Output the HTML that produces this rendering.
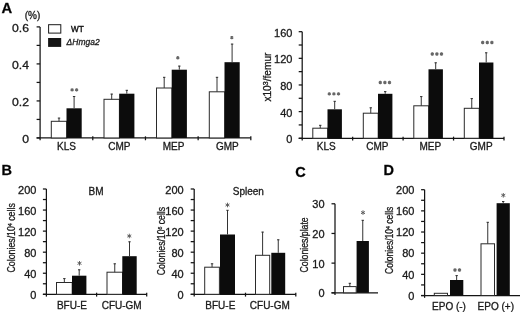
<!DOCTYPE html>
<html><head><meta charset="utf-8"><style>
html,body{margin:0;padding:0;background:#fff;}
body{width:520px;height:312px;overflow:hidden;}
svg{display:block;font-family:"Liberation Sans", sans-serif;will-change:transform;}
text{stroke:#1a1a1a;stroke-width:0.3px;}
</style></head><body>
<svg width="520" height="312" viewBox="0 0 520 312">
<rect width="520" height="312" fill="#ffffff"/>
<line x1="40.10" y1="26.89" x2="40.10" y2="140.25" stroke="#141414" stroke-width="1.25"/>
<line x1="36.60" y1="137.95" x2="40.10" y2="137.95" stroke="#141414" stroke-width="1.25"/>
<line x1="36.60" y1="119.44" x2="40.10" y2="119.44" stroke="#141414" stroke-width="1.25"/>
<line x1="36.60" y1="100.93" x2="40.10" y2="100.93" stroke="#141414" stroke-width="1.25"/>
<line x1="36.60" y1="82.42" x2="40.10" y2="82.42" stroke="#141414" stroke-width="1.25"/>
<line x1="36.60" y1="63.91" x2="40.10" y2="63.91" stroke="#141414" stroke-width="1.25"/>
<line x1="36.60" y1="45.40" x2="40.10" y2="45.40" stroke="#141414" stroke-width="1.25"/>
<line x1="36.60" y1="26.89" x2="40.10" y2="26.89" stroke="#141414" stroke-width="1.25"/>
<line x1="36.60" y1="137.95" x2="250.80" y2="137.95" stroke="#141414" stroke-width="1.25"/>
<line x1="92.78" y1="136.35" x2="92.78" y2="140.25" stroke="#141414" stroke-width="1.25"/>
<line x1="145.46" y1="136.35" x2="145.46" y2="140.25" stroke="#141414" stroke-width="1.25"/>
<line x1="198.14" y1="136.35" x2="198.14" y2="140.25" stroke="#141414" stroke-width="1.25"/>
<line x1="250.82" y1="136.35" x2="250.82" y2="140.25" stroke="#141414" stroke-width="1.25"/>
<text transform="translate(29.00,143.35) scale(1.11,1)" x="0" y="0" font-size="11" text-anchor="end" font-weight="normal" font-style="normal" fill="#1a1a1a">0</text>
<text transform="translate(29.00,106.33) scale(1.11,1)" x="0" y="0" font-size="11" text-anchor="end" font-weight="normal" font-style="normal" fill="#1a1a1a">0.2</text>
<text transform="translate(29.00,69.31) scale(1.11,1)" x="0" y="0" font-size="11" text-anchor="end" font-weight="normal" font-style="normal" fill="#1a1a1a">0.4</text>
<text transform="translate(29.00,32.29) scale(1.11,1)" x="0" y="0" font-size="11" text-anchor="end" font-weight="normal" font-style="normal" fill="#1a1a1a">0.6</text>
<text x="32.50" y="18.80" font-size="10" text-anchor="middle" font-weight="normal" font-style="normal" fill="#1a1a1a">(%)</text>
<rect x="51.30" y="121.30" width="15.40" height="16.65" fill="#ffffff" stroke="#2a2a2a" stroke-width="1.0"/>
<line x1="59.00" y1="117.80" x2="59.00" y2="121.30" stroke="#333" stroke-width="1.0"/>
<line x1="57.80" y1="118.10" x2="60.20" y2="118.10" stroke="#333" stroke-width="1.0"/>
<rect x="66.50" y="108.30" width="15.20" height="29.65" fill="#0c0c0c"/>
<line x1="74.10" y1="96.20" x2="74.10" y2="108.30" stroke="#333" stroke-width="1.0"/>
<line x1="72.90" y1="96.50" x2="75.30" y2="96.50" stroke="#333" stroke-width="1.0"/>
<rect x="104.00" y="99.30" width="15.40" height="38.65" fill="#ffffff" stroke="#2a2a2a" stroke-width="1.0"/>
<line x1="111.70" y1="93.80" x2="111.70" y2="99.30" stroke="#333" stroke-width="1.0"/>
<line x1="110.50" y1="94.10" x2="112.90" y2="94.10" stroke="#333" stroke-width="1.0"/>
<rect x="119.20" y="93.70" width="15.20" height="44.25" fill="#0c0c0c"/>
<line x1="126.80" y1="90.00" x2="126.80" y2="93.70" stroke="#333" stroke-width="1.0"/>
<line x1="125.60" y1="90.30" x2="128.00" y2="90.30" stroke="#333" stroke-width="1.0"/>
<rect x="156.50" y="88.00" width="15.40" height="49.95" fill="#ffffff" stroke="#2a2a2a" stroke-width="1.0"/>
<line x1="164.20" y1="77.00" x2="164.20" y2="88.00" stroke="#333" stroke-width="1.0"/>
<line x1="163.00" y1="77.30" x2="165.40" y2="77.30" stroke="#333" stroke-width="1.0"/>
<rect x="171.70" y="69.70" width="15.20" height="68.25" fill="#0c0c0c"/>
<line x1="179.30" y1="65.80" x2="179.30" y2="69.70" stroke="#333" stroke-width="1.0"/>
<line x1="178.10" y1="66.10" x2="180.50" y2="66.10" stroke="#333" stroke-width="1.0"/>
<rect x="209.30" y="91.80" width="15.40" height="46.15" fill="#ffffff" stroke="#2a2a2a" stroke-width="1.0"/>
<line x1="217.00" y1="77.00" x2="217.00" y2="91.80" stroke="#333" stroke-width="1.0"/>
<line x1="215.80" y1="77.30" x2="218.20" y2="77.30" stroke="#333" stroke-width="1.0"/>
<rect x="224.50" y="62.20" width="15.20" height="75.75" fill="#0c0c0c"/>
<line x1="232.10" y1="43.80" x2="232.10" y2="62.20" stroke="#333" stroke-width="1.0"/>
<line x1="230.90" y1="44.10" x2="233.30" y2="44.10" stroke="#333" stroke-width="1.0"/>
<text x="66.50" y="150.30" font-size="10" text-anchor="middle" font-weight="normal" font-style="normal" fill="#1a1a1a">KLS</text>
<text x="119.30" y="150.30" font-size="10" text-anchor="middle" font-weight="normal" font-style="normal" fill="#1a1a1a">CMP</text>
<text x="173.60" y="150.30" font-size="10" text-anchor="middle" font-weight="normal" font-style="normal" fill="#1a1a1a">MEP</text>
<text x="227.30" y="150.30" font-size="10" text-anchor="middle" font-weight="normal" font-style="normal" fill="#1a1a1a">GMP</text>
<path d="M72.10 88.20L72.10 91.60M70.63 89.05L73.57 90.75M73.57 89.05L70.63 90.75" stroke="#666666" stroke-width="1.25" fill="none"/>
<path d="M76.60 88.20L76.60 91.60M75.13 89.05L78.07 90.75M78.07 89.05L75.13 90.75" stroke="#666666" stroke-width="1.25" fill="none"/>
<path d="M177.80 56.10L177.80 59.50M176.33 56.95L179.27 58.65M179.27 56.95L176.33 58.65" stroke="#666666" stroke-width="1.25" fill="none"/>
<path d="M231.80 35.90L231.80 39.30M230.33 36.75L233.27 38.45M233.27 36.75L230.33 38.45" stroke="#666666" stroke-width="1.25" fill="none"/>
<rect x="48.60" y="24.70" width="12.20" height="8.40" fill="#ffffff" stroke="#1a1a1a" stroke-width="1.0"/>
<rect x="48.10" y="38.00" width="13.10" height="8.90" fill="#151515"/>
<text x="71.10" y="31.50" font-size="8.8" text-anchor="start" font-weight="normal" font-style="normal" fill="#111" textLength="12.80" lengthAdjust="spacingAndGlyphs" style="stroke-width:0.42px;stroke:#111">WT</text>
<text x="66.60" y="44.80" font-size="8.8" text-anchor="start" font-weight="normal" font-style="italic" fill="#1a1a1a" textLength="33.00" lengthAdjust="spacingAndGlyphs">&#916;Hmga2</text>
<line x1="302.20" y1="31.69" x2="302.20" y2="140.55" stroke="#141414" stroke-width="1.25"/>
<line x1="298.70" y1="138.25" x2="302.20" y2="138.25" stroke="#141414" stroke-width="1.25"/>
<line x1="298.70" y1="124.93" x2="302.20" y2="124.93" stroke="#141414" stroke-width="1.25"/>
<line x1="298.70" y1="111.61" x2="302.20" y2="111.61" stroke="#141414" stroke-width="1.25"/>
<line x1="298.70" y1="98.29" x2="302.20" y2="98.29" stroke="#141414" stroke-width="1.25"/>
<line x1="298.70" y1="84.97" x2="302.20" y2="84.97" stroke="#141414" stroke-width="1.25"/>
<line x1="298.70" y1="71.65" x2="302.20" y2="71.65" stroke="#141414" stroke-width="1.25"/>
<line x1="298.70" y1="58.33" x2="302.20" y2="58.33" stroke="#141414" stroke-width="1.25"/>
<line x1="298.70" y1="45.01" x2="302.20" y2="45.01" stroke="#141414" stroke-width="1.25"/>
<line x1="298.70" y1="31.69" x2="302.20" y2="31.69" stroke="#141414" stroke-width="1.25"/>
<line x1="298.70" y1="138.25" x2="504.00" y2="138.25" stroke="#141414" stroke-width="1.25"/>
<line x1="352.65" y1="136.65" x2="352.65" y2="140.55" stroke="#141414" stroke-width="1.25"/>
<line x1="403.10" y1="136.65" x2="403.10" y2="140.55" stroke="#141414" stroke-width="1.25"/>
<line x1="453.55" y1="136.65" x2="453.55" y2="140.55" stroke="#141414" stroke-width="1.25"/>
<line x1="504.00" y1="136.65" x2="504.00" y2="140.55" stroke="#141414" stroke-width="1.25"/>
<text x="292.40" y="143.25" font-size="11" text-anchor="end" font-weight="normal" font-style="normal" fill="#1a1a1a">0</text>
<text x="292.40" y="116.61" font-size="11" text-anchor="end" font-weight="normal" font-style="normal" fill="#1a1a1a">40</text>
<text x="292.40" y="89.97" font-size="11" text-anchor="end" font-weight="normal" font-style="normal" fill="#1a1a1a">80</text>
<text x="292.40" y="63.33" font-size="11" text-anchor="end" font-weight="normal" font-style="normal" fill="#1a1a1a">120</text>
<text x="292.40" y="36.69" font-size="11" text-anchor="end" font-weight="normal" font-style="normal" fill="#1a1a1a">160</text>
<rect x="312.80" y="128.20" width="14.90" height="10.05" fill="#ffffff" stroke="#2a2a2a" stroke-width="1.0"/>
<line x1="320.25" y1="125.00" x2="320.25" y2="128.20" stroke="#333" stroke-width="1.0"/>
<line x1="319.05" y1="125.30" x2="321.45" y2="125.30" stroke="#333" stroke-width="1.0"/>
<rect x="327.50" y="109.30" width="14.40" height="28.95" fill="#0c0c0c"/>
<line x1="334.70" y1="101.00" x2="334.70" y2="109.30" stroke="#333" stroke-width="1.0"/>
<line x1="333.50" y1="101.30" x2="335.90" y2="101.30" stroke="#333" stroke-width="1.0"/>
<rect x="363.30" y="113.20" width="14.90" height="25.05" fill="#ffffff" stroke="#2a2a2a" stroke-width="1.0"/>
<line x1="370.75" y1="107.50" x2="370.75" y2="113.20" stroke="#333" stroke-width="1.0"/>
<line x1="369.55" y1="107.80" x2="371.95" y2="107.80" stroke="#333" stroke-width="1.0"/>
<rect x="378.00" y="93.80" width="14.40" height="44.45" fill="#0c0c0c"/>
<line x1="385.20" y1="91.30" x2="385.20" y2="93.80" stroke="#333" stroke-width="1.0"/>
<line x1="384.00" y1="91.60" x2="386.40" y2="91.60" stroke="#333" stroke-width="1.0"/>
<rect x="413.80" y="105.80" width="14.90" height="32.45" fill="#ffffff" stroke="#2a2a2a" stroke-width="1.0"/>
<line x1="421.25" y1="96.30" x2="421.25" y2="105.80" stroke="#333" stroke-width="1.0"/>
<line x1="420.05" y1="96.60" x2="422.45" y2="96.60" stroke="#333" stroke-width="1.0"/>
<rect x="428.50" y="69.30" width="14.40" height="68.95" fill="#0c0c0c"/>
<line x1="435.70" y1="62.50" x2="435.70" y2="69.30" stroke="#333" stroke-width="1.0"/>
<line x1="434.50" y1="62.80" x2="436.90" y2="62.80" stroke="#333" stroke-width="1.0"/>
<rect x="464.30" y="108.30" width="14.90" height="29.95" fill="#ffffff" stroke="#2a2a2a" stroke-width="1.0"/>
<line x1="471.75" y1="98.30" x2="471.75" y2="108.30" stroke="#333" stroke-width="1.0"/>
<line x1="470.55" y1="98.60" x2="472.95" y2="98.60" stroke="#333" stroke-width="1.0"/>
<rect x="479.00" y="62.50" width="14.40" height="75.75" fill="#0c0c0c"/>
<line x1="486.20" y1="52.50" x2="486.20" y2="62.50" stroke="#333" stroke-width="1.0"/>
<line x1="485.00" y1="52.80" x2="487.40" y2="52.80" stroke="#333" stroke-width="1.0"/>
<text x="326.30" y="149.50" font-size="10" text-anchor="middle" font-weight="normal" font-style="normal" fill="#1a1a1a">KLS</text>
<text x="377.40" y="149.50" font-size="10" text-anchor="middle" font-weight="normal" font-style="normal" fill="#1a1a1a">CMP</text>
<text x="430.30" y="149.50" font-size="10" text-anchor="middle" font-weight="normal" font-style="normal" fill="#1a1a1a">MEP</text>
<text x="481.20" y="149.50" font-size="10" text-anchor="middle" font-weight="normal" font-style="normal" fill="#1a1a1a">GMP</text>
<path d="M329.30 92.20L329.30 95.60M327.83 93.05L330.77 94.75M330.77 93.05L327.83 94.75" stroke="#666666" stroke-width="1.25" fill="none"/>
<path d="M333.90 92.20L333.90 95.60M332.43 93.05L335.37 94.75M335.37 93.05L332.43 94.75" stroke="#666666" stroke-width="1.25" fill="none"/>
<path d="M338.50 92.20L338.50 95.60M337.03 93.05L339.97 94.75M339.97 93.05L337.03 94.75" stroke="#666666" stroke-width="1.25" fill="none"/>
<path d="M380.30 80.80L380.30 84.20M378.83 81.65L381.77 83.35M381.77 81.65L378.83 83.35" stroke="#666666" stroke-width="1.25" fill="none"/>
<path d="M384.90 80.80L384.90 84.20M383.43 81.65L386.37 83.35M386.37 81.65L383.43 83.35" stroke="#666666" stroke-width="1.25" fill="none"/>
<path d="M389.50 80.80L389.50 84.20M388.03 81.65L390.97 83.35M390.97 81.65L388.03 83.35" stroke="#666666" stroke-width="1.25" fill="none"/>
<path d="M432.30 52.30L432.30 55.70M430.83 53.15L433.77 54.85M433.77 53.15L430.83 54.85" stroke="#666666" stroke-width="1.25" fill="none"/>
<path d="M436.90 52.30L436.90 55.70M435.43 53.15L438.37 54.85M438.37 53.15L435.43 54.85" stroke="#666666" stroke-width="1.25" fill="none"/>
<path d="M441.50 52.30L441.50 55.70M440.03 53.15L442.97 54.85M442.97 53.15L440.03 54.85" stroke="#666666" stroke-width="1.25" fill="none"/>
<path d="M482.70 40.80L482.70 44.20M481.23 41.65L484.17 43.35M484.17 41.65L481.23 43.35" stroke="#666666" stroke-width="1.25" fill="none"/>
<path d="M487.30 40.80L487.30 44.20M485.83 41.65L488.77 43.35M488.77 41.65L485.83 43.35" stroke="#666666" stroke-width="1.25" fill="none"/>
<path d="M491.90 40.80L491.90 44.20M490.43 41.65L493.37 43.35M493.37 41.65L490.43 43.35" stroke="#666666" stroke-width="1.25" fill="none"/>
<text transform="translate(271.30,101.60) rotate(-90)" x="0" y="0" font-size="10" fill="#1a1a1a" textLength="49.00" lengthAdjust="spacingAndGlyphs">x10<tspan font-size="7" dy="-3.5">3</tspan><tspan dy="3.5">/femur</tspan></text>
<line x1="46.40" y1="189.00" x2="46.40" y2="296.60" stroke="#141414" stroke-width="1.25"/>
<line x1="42.90" y1="294.30" x2="46.40" y2="294.30" stroke="#141414" stroke-width="1.25"/>
<line x1="42.90" y1="283.77" x2="46.40" y2="283.77" stroke="#141414" stroke-width="1.25"/>
<line x1="42.90" y1="273.24" x2="46.40" y2="273.24" stroke="#141414" stroke-width="1.25"/>
<line x1="42.90" y1="262.71" x2="46.40" y2="262.71" stroke="#141414" stroke-width="1.25"/>
<line x1="42.90" y1="252.18" x2="46.40" y2="252.18" stroke="#141414" stroke-width="1.25"/>
<line x1="42.90" y1="241.65" x2="46.40" y2="241.65" stroke="#141414" stroke-width="1.25"/>
<line x1="42.90" y1="231.12" x2="46.40" y2="231.12" stroke="#141414" stroke-width="1.25"/>
<line x1="42.90" y1="220.59" x2="46.40" y2="220.59" stroke="#141414" stroke-width="1.25"/>
<line x1="42.90" y1="210.06" x2="46.40" y2="210.06" stroke="#141414" stroke-width="1.25"/>
<line x1="42.90" y1="199.53" x2="46.40" y2="199.53" stroke="#141414" stroke-width="1.25"/>
<line x1="42.90" y1="189.00" x2="46.40" y2="189.00" stroke="#141414" stroke-width="1.25"/>
<line x1="42.90" y1="294.30" x2="146.70" y2="294.30" stroke="#141414" stroke-width="1.25"/>
<line x1="96.60" y1="292.70" x2="96.60" y2="296.60" stroke="#141414" stroke-width="1.25"/>
<line x1="146.70" y1="292.70" x2="146.70" y2="296.60" stroke="#141414" stroke-width="1.25"/>
<text x="36.40" y="299.30" font-size="11" text-anchor="end" font-weight="normal" font-style="normal" fill="#1a1a1a">0</text>
<text x="36.40" y="278.24" font-size="11" text-anchor="end" font-weight="normal" font-style="normal" fill="#1a1a1a">40</text>
<text x="36.40" y="257.18" font-size="11" text-anchor="end" font-weight="normal" font-style="normal" fill="#1a1a1a">80</text>
<text x="36.40" y="236.12" font-size="11" text-anchor="end" font-weight="normal" font-style="normal" fill="#1a1a1a">120</text>
<text x="36.40" y="215.06" font-size="11" text-anchor="end" font-weight="normal" font-style="normal" fill="#1a1a1a">160</text>
<text x="36.40" y="194.00" font-size="11" text-anchor="end" font-weight="normal" font-style="normal" fill="#1a1a1a">200</text>
<rect x="56.50" y="282.50" width="15.70" height="11.80" fill="#ffffff" stroke="#2a2a2a" stroke-width="1.0"/>
<line x1="64.35" y1="278.30" x2="64.35" y2="282.50" stroke="#333" stroke-width="1.0"/>
<line x1="63.15" y1="278.60" x2="65.55" y2="278.60" stroke="#333" stroke-width="1.0"/>
<rect x="72.00" y="275.70" width="14.40" height="18.60" fill="#0c0c0c"/>
<line x1="79.20" y1="269.50" x2="79.20" y2="275.70" stroke="#333" stroke-width="1.0"/>
<line x1="78.00" y1="269.80" x2="80.40" y2="269.80" stroke="#333" stroke-width="1.0"/>
<rect x="107.00" y="272.20" width="15.50" height="22.10" fill="#ffffff" stroke="#2a2a2a" stroke-width="1.0"/>
<line x1="114.75" y1="263.50" x2="114.75" y2="272.20" stroke="#333" stroke-width="1.0"/>
<line x1="113.55" y1="263.80" x2="115.95" y2="263.80" stroke="#333" stroke-width="1.0"/>
<rect x="122.30" y="256.20" width="14.40" height="38.10" fill="#0c0c0c"/>
<line x1="129.50" y1="241.50" x2="129.50" y2="256.20" stroke="#333" stroke-width="1.0"/>
<line x1="128.30" y1="241.80" x2="130.70" y2="241.80" stroke="#333" stroke-width="1.0"/>
<text x="71.90" y="308.70" font-size="10" text-anchor="middle" font-weight="normal" font-style="normal" fill="#1a1a1a">BFU-E</text>
<text x="121.70" y="308.70" font-size="10" text-anchor="middle" font-weight="normal" font-style="normal" fill="#1a1a1a">CFU-GM</text>
<text x="96.10" y="195.00" font-size="10" text-anchor="middle" font-weight="normal" font-style="normal" fill="#1a1a1a">BM</text>
<path d="M79.50 261.00L79.50 265.60M77.51 262.15L81.49 264.45M81.49 262.15L77.51 264.45" stroke="#555" stroke-width="0.9" fill="none"/>
<path d="M129.30 233.70L129.30 238.30M127.31 234.85L131.29 237.15M131.29 234.85L127.31 237.15" stroke="#555" stroke-width="0.9" fill="none"/>
<text transform="translate(15.40,272.50) rotate(-90)" x="0" y="0" font-size="10" fill="#1a1a1a" textLength="69.30" lengthAdjust="spacingAndGlyphs">Colonies/10<tspan font-size="6" dy="-3">4</tspan><tspan dy="3"> cells</tspan></text>
<line x1="194.20" y1="189.00" x2="194.20" y2="296.60" stroke="#141414" stroke-width="1.25"/>
<line x1="190.70" y1="294.30" x2="194.20" y2="294.30" stroke="#141414" stroke-width="1.25"/>
<line x1="190.70" y1="283.77" x2="194.20" y2="283.77" stroke="#141414" stroke-width="1.25"/>
<line x1="190.70" y1="273.24" x2="194.20" y2="273.24" stroke="#141414" stroke-width="1.25"/>
<line x1="190.70" y1="262.71" x2="194.20" y2="262.71" stroke="#141414" stroke-width="1.25"/>
<line x1="190.70" y1="252.18" x2="194.20" y2="252.18" stroke="#141414" stroke-width="1.25"/>
<line x1="190.70" y1="241.65" x2="194.20" y2="241.65" stroke="#141414" stroke-width="1.25"/>
<line x1="190.70" y1="231.12" x2="194.20" y2="231.12" stroke="#141414" stroke-width="1.25"/>
<line x1="190.70" y1="220.59" x2="194.20" y2="220.59" stroke="#141414" stroke-width="1.25"/>
<line x1="190.70" y1="210.06" x2="194.20" y2="210.06" stroke="#141414" stroke-width="1.25"/>
<line x1="190.70" y1="199.53" x2="194.20" y2="199.53" stroke="#141414" stroke-width="1.25"/>
<line x1="190.70" y1="189.00" x2="194.20" y2="189.00" stroke="#141414" stroke-width="1.25"/>
<line x1="190.70" y1="294.30" x2="295.80" y2="294.30" stroke="#141414" stroke-width="1.25"/>
<line x1="245.50" y1="292.70" x2="245.50" y2="296.60" stroke="#141414" stroke-width="1.25"/>
<line x1="295.80" y1="292.70" x2="295.80" y2="296.60" stroke="#141414" stroke-width="1.25"/>
<text x="183.70" y="299.30" font-size="11" text-anchor="end" font-weight="normal" font-style="normal" fill="#1a1a1a">0</text>
<text x="183.70" y="278.24" font-size="11" text-anchor="end" font-weight="normal" font-style="normal" fill="#1a1a1a">40</text>
<text x="183.70" y="257.18" font-size="11" text-anchor="end" font-weight="normal" font-style="normal" fill="#1a1a1a">80</text>
<text x="183.70" y="236.12" font-size="11" text-anchor="end" font-weight="normal" font-style="normal" fill="#1a1a1a">120</text>
<text x="183.70" y="215.06" font-size="11" text-anchor="end" font-weight="normal" font-style="normal" fill="#1a1a1a">160</text>
<text x="183.70" y="194.00" font-size="11" text-anchor="end" font-weight="normal" font-style="normal" fill="#1a1a1a">200</text>
<rect x="204.70" y="267.20" width="14.70" height="27.10" fill="#ffffff" stroke="#2a2a2a" stroke-width="1.0"/>
<line x1="212.05" y1="263.50" x2="212.05" y2="267.20" stroke="#333" stroke-width="1.0"/>
<line x1="210.85" y1="263.80" x2="213.25" y2="263.80" stroke="#333" stroke-width="1.0"/>
<rect x="220.00" y="234.50" width="15.00" height="59.80" fill="#0c0c0c"/>
<line x1="227.50" y1="210.00" x2="227.50" y2="234.50" stroke="#333" stroke-width="1.0"/>
<line x1="226.30" y1="210.30" x2="228.70" y2="210.30" stroke="#333" stroke-width="1.0"/>
<rect x="255.50" y="255.30" width="14.20" height="39.00" fill="#ffffff" stroke="#2a2a2a" stroke-width="1.0"/>
<line x1="262.60" y1="231.80" x2="262.60" y2="255.30" stroke="#333" stroke-width="1.0"/>
<line x1="261.40" y1="232.10" x2="263.80" y2="232.10" stroke="#333" stroke-width="1.0"/>
<rect x="271.30" y="252.80" width="13.90" height="41.50" fill="#0c0c0c"/>
<line x1="278.25" y1="239.50" x2="278.25" y2="252.80" stroke="#333" stroke-width="1.0"/>
<line x1="277.05" y1="239.80" x2="279.45" y2="239.80" stroke="#333" stroke-width="1.0"/>
<text x="220.30" y="308.70" font-size="10" text-anchor="middle" font-weight="normal" font-style="normal" fill="#1a1a1a">BFU-E</text>
<text x="269.80" y="308.70" font-size="10" text-anchor="middle" font-weight="normal" font-style="normal" fill="#1a1a1a">CFU-GM</text>
<text x="248.30" y="195.00" font-size="10" text-anchor="middle" font-weight="normal" font-style="normal" fill="#1a1a1a">Spleen</text>
<path d="M227.50 202.70L227.50 207.30M225.51 203.85L229.49 206.15M229.49 203.85L225.51 206.15" stroke="#555" stroke-width="0.9" fill="none"/>
<text transform="translate(164.60,275.20) rotate(-90)" x="0" y="0" font-size="10" fill="#1a1a1a" textLength="68.30" lengthAdjust="spacingAndGlyphs">Colonies/10<tspan font-size="6" dy="-3">6</tspan><tspan dy="3"> cells</tspan></text>
<line x1="335.00" y1="203.79" x2="335.00" y2="295.10" stroke="#141414" stroke-width="1.25"/>
<line x1="331.50" y1="292.80" x2="335.00" y2="292.80" stroke="#141414" stroke-width="1.25"/>
<line x1="331.50" y1="263.13" x2="335.00" y2="263.13" stroke="#141414" stroke-width="1.25"/>
<line x1="331.50" y1="233.46" x2="335.00" y2="233.46" stroke="#141414" stroke-width="1.25"/>
<line x1="331.50" y1="203.79" x2="335.00" y2="203.79" stroke="#141414" stroke-width="1.25"/>
<line x1="331.50" y1="292.80" x2="378.00" y2="292.80" stroke="#141414" stroke-width="1.25"/>
<text x="324.60" y="297.30" font-size="11" text-anchor="end" font-weight="normal" font-style="normal" fill="#1a1a1a">0</text>
<text x="324.60" y="267.63" font-size="11" text-anchor="end" font-weight="normal" font-style="normal" fill="#1a1a1a">10</text>
<text x="324.60" y="237.96" font-size="11" text-anchor="end" font-weight="normal" font-style="normal" fill="#1a1a1a">20</text>
<text x="324.60" y="208.29" font-size="11" text-anchor="end" font-weight="normal" font-style="normal" fill="#1a1a1a">30</text>
<rect x="343.50" y="286.60" width="12.70" height="6.20" fill="#ffffff" stroke="#2a2a2a" stroke-width="1.0"/>
<line x1="349.85" y1="283.00" x2="349.85" y2="286.60" stroke="#333" stroke-width="1.0"/>
<line x1="348.65" y1="283.30" x2="351.05" y2="283.30" stroke="#333" stroke-width="1.0"/>
<rect x="356.60" y="241.00" width="12.30" height="51.80" fill="#0c0c0c"/>
<line x1="362.75" y1="220.00" x2="362.75" y2="241.00" stroke="#333" stroke-width="1.0"/>
<line x1="361.55" y1="220.30" x2="363.95" y2="220.30" stroke="#333" stroke-width="1.0"/>
<path d="M363.00 210.30L363.00 214.90M361.01 211.45L364.99 213.75M364.99 211.45L361.01 213.75" stroke="#555" stroke-width="0.9" fill="none"/>
<text transform="translate(308.30,272.50) rotate(-90)" x="0" y="0" font-size="10" fill="#1a1a1a" textLength="55.20" lengthAdjust="spacingAndGlyphs">Colonies/plate</text>
<line x1="424.60" y1="189.70" x2="424.60" y2="297.80" stroke="#141414" stroke-width="1.25"/>
<line x1="421.10" y1="295.50" x2="424.60" y2="295.50" stroke="#141414" stroke-width="1.25"/>
<line x1="421.10" y1="284.92" x2="424.60" y2="284.92" stroke="#141414" stroke-width="1.25"/>
<line x1="421.10" y1="274.34" x2="424.60" y2="274.34" stroke="#141414" stroke-width="1.25"/>
<line x1="421.10" y1="263.76" x2="424.60" y2="263.76" stroke="#141414" stroke-width="1.25"/>
<line x1="421.10" y1="253.18" x2="424.60" y2="253.18" stroke="#141414" stroke-width="1.25"/>
<line x1="421.10" y1="242.60" x2="424.60" y2="242.60" stroke="#141414" stroke-width="1.25"/>
<line x1="421.10" y1="232.02" x2="424.60" y2="232.02" stroke="#141414" stroke-width="1.25"/>
<line x1="421.10" y1="221.44" x2="424.60" y2="221.44" stroke="#141414" stroke-width="1.25"/>
<line x1="421.10" y1="210.86" x2="424.60" y2="210.86" stroke="#141414" stroke-width="1.25"/>
<line x1="421.10" y1="200.28" x2="424.60" y2="200.28" stroke="#141414" stroke-width="1.25"/>
<line x1="421.10" y1="189.70" x2="424.60" y2="189.70" stroke="#141414" stroke-width="1.25"/>
<line x1="421.10" y1="295.50" x2="520.00" y2="295.50" stroke="#141414" stroke-width="1.25"/>
<text x="414.40" y="299.80" font-size="11" text-anchor="end" font-weight="normal" font-style="normal" fill="#1a1a1a">0</text>
<text x="414.40" y="278.64" font-size="11" text-anchor="end" font-weight="normal" font-style="normal" fill="#1a1a1a">40</text>
<text x="414.40" y="257.48" font-size="11" text-anchor="end" font-weight="normal" font-style="normal" fill="#1a1a1a">80</text>
<text x="414.40" y="236.32" font-size="11" text-anchor="end" font-weight="normal" font-style="normal" fill="#1a1a1a">120</text>
<text x="414.40" y="215.16" font-size="11" text-anchor="end" font-weight="normal" font-style="normal" fill="#1a1a1a">160</text>
<text x="414.40" y="194.00" font-size="11" text-anchor="end" font-weight="normal" font-style="normal" fill="#1a1a1a">200</text>
<rect x="434.30" y="293.30" width="13.20" height="2.20" fill="#ffffff" stroke="#2a2a2a" stroke-width="1.0"/>
<rect x="450.00" y="280.00" width="13.30" height="15.50" fill="#0c0c0c"/>
<line x1="456.65" y1="275.30" x2="456.65" y2="280.00" stroke="#333" stroke-width="1.0"/>
<line x1="455.45" y1="275.60" x2="457.85" y2="275.60" stroke="#333" stroke-width="1.0"/>
<rect x="481.00" y="243.80" width="13.50" height="51.70" fill="#ffffff" stroke="#2a2a2a" stroke-width="1.0"/>
<line x1="487.75" y1="222.00" x2="487.75" y2="243.80" stroke="#333" stroke-width="1.0"/>
<line x1="486.55" y1="222.30" x2="488.95" y2="222.30" stroke="#333" stroke-width="1.0"/>
<rect x="496.60" y="203.20" width="13.20" height="92.30" fill="#0c0c0c"/>
<line x1="503.20" y1="201.20" x2="503.20" y2="203.20" stroke="#333" stroke-width="1.0"/>
<line x1="502.00" y1="201.50" x2="504.40" y2="201.50" stroke="#333" stroke-width="1.0"/>
<text x="449.00" y="309.90" font-size="10" text-anchor="middle" font-weight="normal" font-style="normal" fill="#1a1a1a">EPO (-)</text>
<text x="495.80" y="309.90" font-size="10" text-anchor="middle" font-weight="normal" font-style="normal" fill="#1a1a1a">EPO (+)</text>
<path d="M455.00 268.30L455.00 271.70M453.53 269.15L456.47 270.85M456.47 269.15L453.53 270.85" stroke="#666666" stroke-width="1.25" fill="none"/>
<path d="M459.50 268.30L459.50 271.70M458.03 269.15L460.97 270.85M460.97 269.15L458.03 270.85" stroke="#666666" stroke-width="1.25" fill="none"/>
<path d="M503.30 193.00L503.30 197.60M501.31 194.15L505.29 196.45M505.29 194.15L501.31 196.45" stroke="#555" stroke-width="0.9" fill="none"/>
<text transform="translate(392.80,274.00) rotate(-90)" x="0" y="0" font-size="10" fill="#1a1a1a" textLength="67.40" lengthAdjust="spacingAndGlyphs">Colonies/10<tspan font-size="6" dy="-3">4</tspan><tspan dy="3"> cells</tspan></text>
<text transform="translate(1.50,13.40) scale(1.02,1)" x="0" y="0" font-size="14.5" text-anchor="start" font-weight="bold" font-style="normal" fill="#000">A</text>
<text x="1.60" y="175.20" font-size="14.5" text-anchor="start" font-weight="bold" font-style="normal" fill="#000">B</text>
<text x="295.20" y="176.60" font-size="14.5" text-anchor="start" font-weight="bold" font-style="normal" fill="#000">C</text>
<text x="383.50" y="175.40" font-size="14.5" text-anchor="start" font-weight="bold" font-style="normal" fill="#000">D</text>
</svg>
</body></html>
